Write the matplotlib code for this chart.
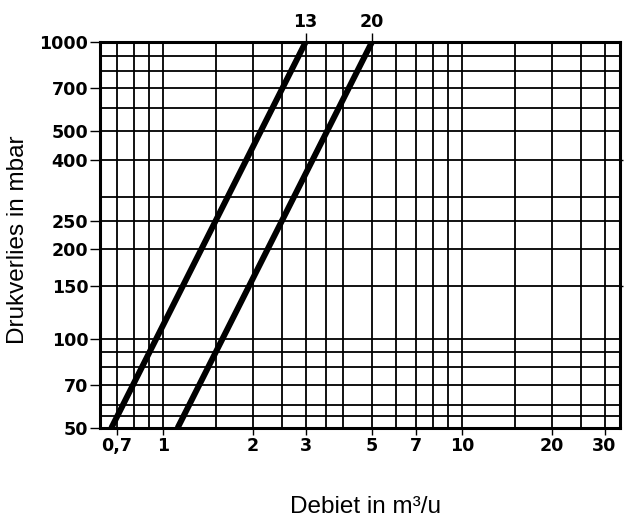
import matplotlib
matplotlib.use("Agg")
import matplotlib.pyplot as plt

# Data
flow_13 = [0.671, 3.0]        # m3/u
dp_13 = [50, 1000]            # mbar
flow_20 = [1.118, 5.0]
dp_20 = [50, 1000]
series_labels = ["13", "20"]
series_label_pos = [3, 5]

x_grid = [0.7, 0.8, 0.9, 1, 1.5, 2, 2.5, 3, 3.5, 4, 5, 6, 7, 8, 9, 10, 15, 20, 25, 30]
y_grid = [50, 55, 60, 70, 80, 90, 100, 150, 200, 250, 300, 400, 500, 600, 700, 800, 900, 1000]
x_ticks = [0.7, 1, 2, 3, 5, 7, 10, 20, 30]
x_ticklabels = ["0,7", "1", "2", "3", "5", "7", "10", "20", "30"]
y_ticks = [50, 70, 100, 150, 200, 250, 400, 500, 700, 1000]
y_ticklabels = ["50", "70", "100", "150", "200", "250", "400", "500", "700", "1000"]

fig = plt.figure(figsize=(6.24, 5.17), dpi=100)
ax = fig.add_axes([100/624, 89/517, 520/624, 386/517])
ax.set_xscale("log")
ax.set_yscale("log")
ax.set_xlim(0.615, 33.8)
ax.set_ylim(50, 1000)

for xv in x_grid:
    ax.axvline(xv, color="black", lw=1.3, zorder=1)
for yv in y_grid:
    ax.axhline(yv, color="black", lw=1.3, zorder=1)

ax.plot(flow_13, dp_13, color="black", lw=4.3, solid_capstyle="butt", zorder=3)
ax.plot(flow_20, dp_20, color="black", lw=4.3, solid_capstyle="butt", zorder=3)

for s in ax.spines.values():
    s.set_linewidth(2.2)
    s.set_zorder(4)

tick_font = dict(family="DejaVu Sans", weight="bold", size=12.6)

ax.minorticks_off()
ax.set_xticks(x_ticks)
ax.set_xticklabels(x_ticklabels, fontdict=tick_font)
ax.set_yticks(y_ticks)
ax.set_yticklabels(y_ticklabels, fontdict=tick_font)
ax.tick_params(axis="x", which="major", direction="out", length=5, width=1, pad=1.5)
ax.tick_params(axis="y", which="major", direction="out", length=7, width=1, pad=1.5)
ax.tick_params(which="minor", length=0)

# top labels for the series
axt = ax.twiny()
axt.set_xscale("log")
axt.set_xlim(ax.get_xlim())
axt.minorticks_off()
axt.set_xticks(series_label_pos)
axt.set_xticklabels(series_labels, fontdict=tick_font)
axt.tick_params(axis="x", direction="out", length=6.5, width=1, pad=1.5)
axt.tick_params(which="minor", length=0)
for s in axt.spines.values():
    s.set_visible(False)

# small right ticks
axr = ax.twinx()
axr.set_yscale("log")
axr.set_ylim(ax.get_ylim())
axr.minorticks_off()
axr.set_yticks([150, 400])
axr.set_yticklabels(["", ""])
axr.tick_params(axis="y", direction="out", length=2.5, width=1)
axr.tick_params(which="minor", length=0)
for s in axr.spines.values():
    s.set_visible(False)

fig.text(18.4/624, 1 - 240/517, "Drukverlies in mbar", rotation=90,
         ha="center", va="center", family="Liberation Sans", size=17.5)
fig.text(365.5/624, 3.7/517, "Debiet in m\u00b3/u", ha="center", va="baseline",
         family="Liberation Sans", size=17.5)

fig.savefig("out.png", dpi=100)
